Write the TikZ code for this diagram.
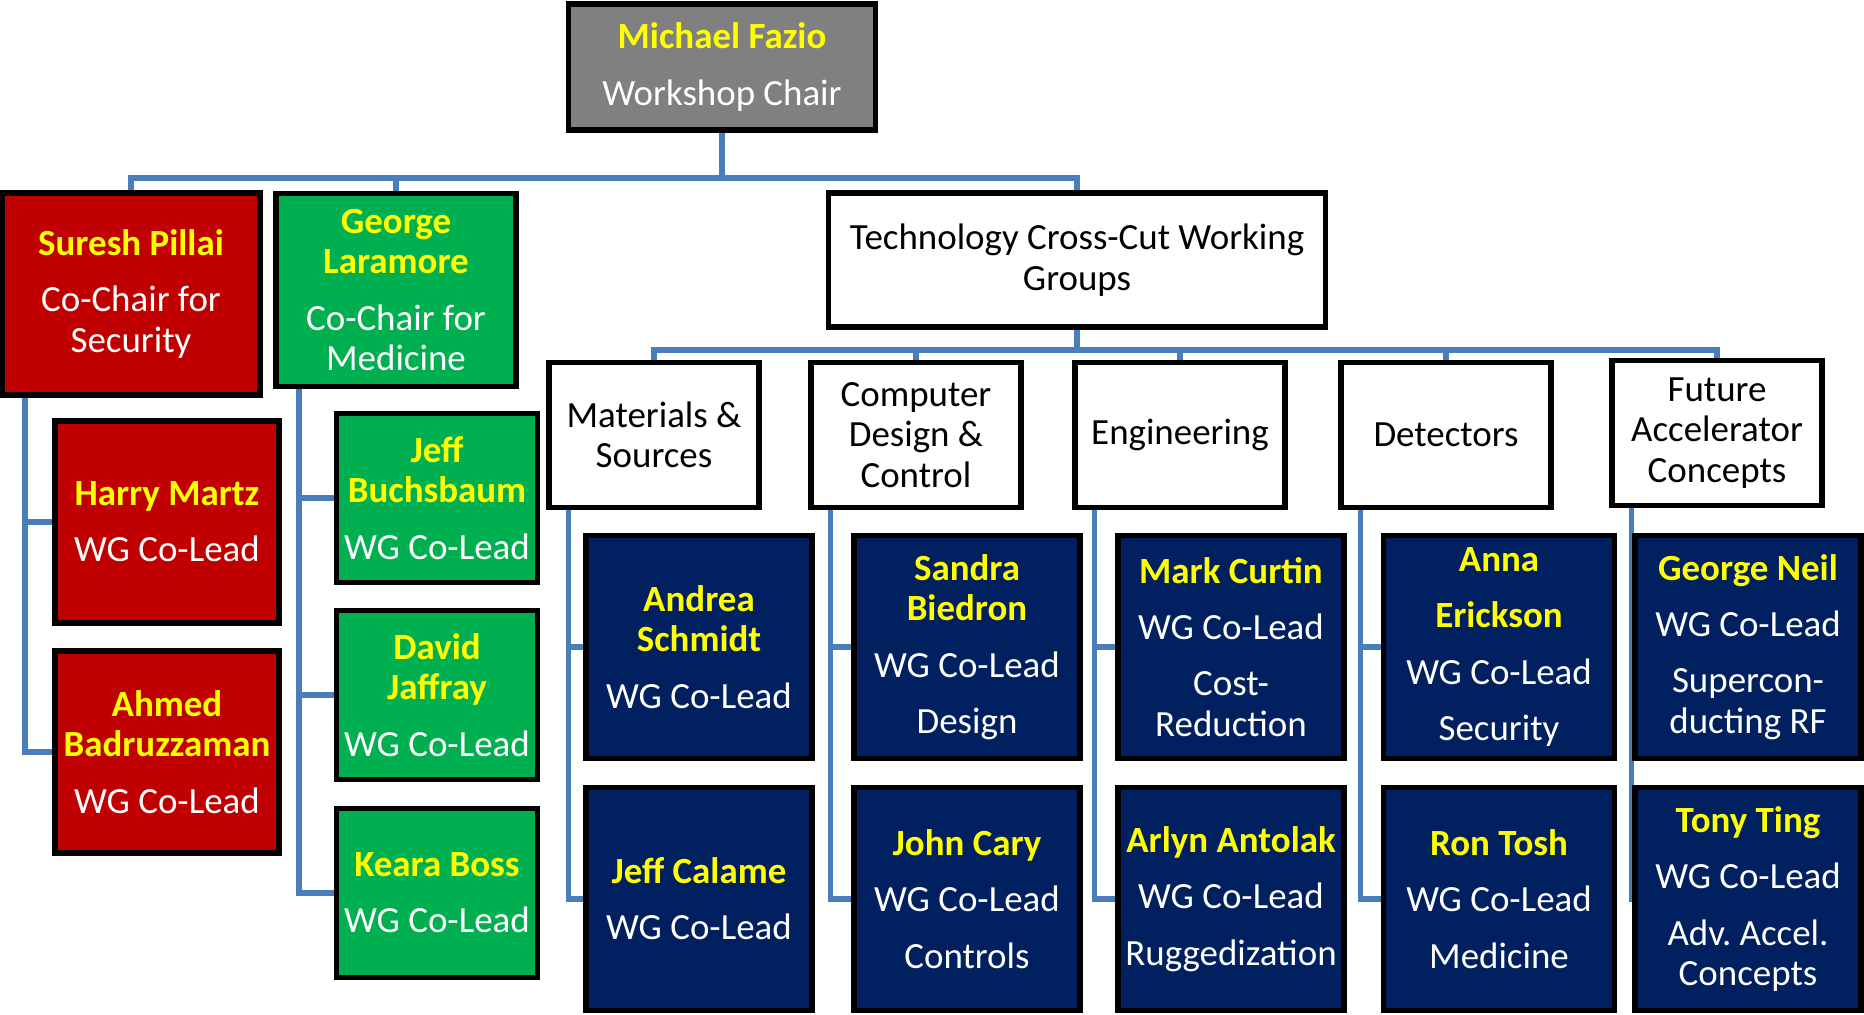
\documentclass[tikz,border=0pt]{standalone}
\usepackage{fontspec}
\setmainfont{Carlito}
\usetikzlibrary{backgrounds}
\definecolor{chairgray}{RGB}{128,128,128}
\definecolor{secred}{RGB}{192,0,0}
\definecolor{medgreen}{RGB}{0,176,80}
\definecolor{wgnavy}{RGB}{0,32,96}
\definecolor{linkblue}{RGB}{74,126,187}
\definecolor{nameyellow}{RGB}{255,255,0}
\newcommand{\wgname}[1]{{\bfseries\color{nameyellow}#1}}
\frenchspacing

\begin{document}
\begin{tikzpicture}[x=0.01cm,y=-0.01cm,
  box/.style={draw=black,line width=1.6pt,align=center,inner sep=0pt,
    font=\fontsize{10.5}{11.5}\selectfont},
  chairbox/.style={box,fill=chairgray,text=white},
  redbox/.style={box,fill=secred,text=white},
  greenbox/.style={box,fill=medgreen,text=white},
  groupbox/.style={box,fill=white,text=black,minimum width=2.1cm,minimum height=1.45cm},
  leadbox/.style={box,fill=wgnavy,text=white,minimum width=2.26cm,minimum height=2.23cm},
  link/.style={draw=linkblue,line width=1.5pt}]
\useasboundingbox (0,0) rectangle (1864,1014);

% top of the chart
\node[chairbox,minimum width=3.07cm,minimum height=1.26cm] (chair) at (722,67)
  {\wgname{Michael Fazio}\\[4.8pt]Workshop Chair};
\node[redbox,minimum width=2.58cm,minimum height=2.02cm] (suresh) at (131,294)
  {\wgname{Suresh Pillai}\\[4.5pt]Co-Chair for\\Security};
\node[greenbox,minimum width=2.40cm,minimum height=1.93cm] (george) at (396,290)
  {\wgname{George}\\\wgname{Laramore}\\[4.5pt]Co-Chair for\\Medicine};
\node[box,fill=white,minimum width=4.97cm,minimum height=1.34cm] (tech) at (1077,260)
  {Technology Cross-Cut Working\\Groups};

% security and medicine leads
\node[redbox,minimum width=2.24cm,minimum height=2.02cm] (harry) at (167,522)
  {\wgname{Harry Martz}\\[4.5pt]WG Co-Lead};
\node[redbox,minimum width=2.24cm,minimum height=2.02cm] (ahmed) at (167,752)
  {\wgname{Ahmed}\\\wgname{Badruzzaman}\\[4.5pt]WG Co-Lead};
\node[greenbox,minimum width=2.01cm,minimum height=1.69cm] (jeff) at (437,498)
  {\wgname{Jeff}\\\wgname{Buchsbaum}\\[4.5pt]WG Co-Lead};
\node[greenbox,minimum width=2.01cm,minimum height=1.69cm] (david) at (437,695)
  {\wgname{David}\\\wgname{Jaffray}\\[4.5pt]WG Co-Lead};
\node[greenbox,minimum width=2.01cm,minimum height=1.69cm] (keara) at (437,893)
  {\wgname{Keara Boss}\\[4.5pt]WG Co-Lead};

% working groups
\node[groupbox] (mat) at (654,435) {Materials \&\\Sources};
\node[groupbox] (comp) at (916,435) {Computer\\Design \&\\Control};
\node[groupbox] (eng) at (1180,435) {Engineering};
\node[groupbox] (det) at (1446,435) {Detectors};
\node[groupbox] (fut) at (1717,433) {Future\\Accelerator\\Concepts};

% group leads
\node[leadbox] (andrea) at (699,647) {\wgname{Andrea}\\\wgname{Schmidt}\\[4.5pt]WG Co-Lead};
\node[leadbox] (calame) at (699,899) {\wgname{Jeff Calame}\\[4.5pt]WG Co-Lead};
\node[leadbox] (sandra) at (967,647)
  {\wgname{Sandra}\\\wgname{Biedron}\\[4.5pt]WG Co-Lead\\[4.5pt]Design};
\node[leadbox] (cary) at (967,899) {\wgname{John Cary}\\[4.5pt]WG Co-Lead\\[4.5pt]Controls};
\node[leadbox] (curtin) at (1231,647)
  {\wgname{Mark Curtin}\\[4.5pt]WG Co-Lead\\[4.5pt]Cost-\\Reduction};
\node[leadbox] (arlyn) at (1231,899)
  {\wgname{Arlyn Antolak}\\[4.5pt]WG Co-Lead\\[4.5pt]Ruggedization};
\node[leadbox,minimum width=2.31cm] (anna) at (1499,647)
  {\wgname{Anna}\\[4.5pt]\wgname{Erickson}\\[4.5pt]WG Co-Lead\\[4.5pt]Security};
\node[leadbox,minimum width=2.31cm] (ron) at (1499,899)
  {\wgname{Ron Tosh}\\[4.5pt]WG Co-Lead\\[4.5pt]Medicine};
\node[leadbox] (neil) at (1748,647)
  {\wgname{George Neil}\\[4.5pt]WG Co-Lead\\[4.5pt]Supercon-\\ducting RF};
\node[leadbox] (ting) at (1748,899)
  {\wgname{Tony Ting}\\[4.5pt]WG Co-Lead\\[4.5pt]Adv. Accel.\\Concepts};

% connectors
\coordinate (topbus) at (722,178);
\coordinate (wgbus) at (1077,350);
\begin{scope}[on background layer]
\draw[link] (chair.south) -- (topbus);
\draw[link] (suresh.north) -- (suresh.north |- topbus) -- (tech.north |- topbus) -- (tech.north);
\draw[link] (george.north) -- (george.north |- topbus);
\draw[link] (tech.south) -- (wgbus);
\draw[link] (mat.north) -- (mat.north |- wgbus) -- (fut.north |- wgbus) -- (fut.north);
\foreach \g in {comp,eng,det}
  \draw[link] (\g.north) -- (\g.north |- wgbus);
\draw[link] ([xshift=0.26cm]suresh.south west) |- (harry.west);
\draw[link] ([xshift=0.26cm]suresh.south west) |- (ahmed.west);
\foreach \p in {jeff,david,keara}
  \draw[link] ([xshift=0.26cm]george.south west) |- (\p.west);
\foreach \g/\a/\b in {mat/andrea/calame,comp/sandra/cary,eng/curtin/arlyn,det/anna/ron,fut/neil/ting}{
  \draw[link] ([xshift=0.22cm]\g.south west) |- (\a.west);
  \draw[link] ([xshift=0.22cm]\g.south west) |- (\b.west);
}
\end{scope}
\end{tikzpicture}
\end{document}
